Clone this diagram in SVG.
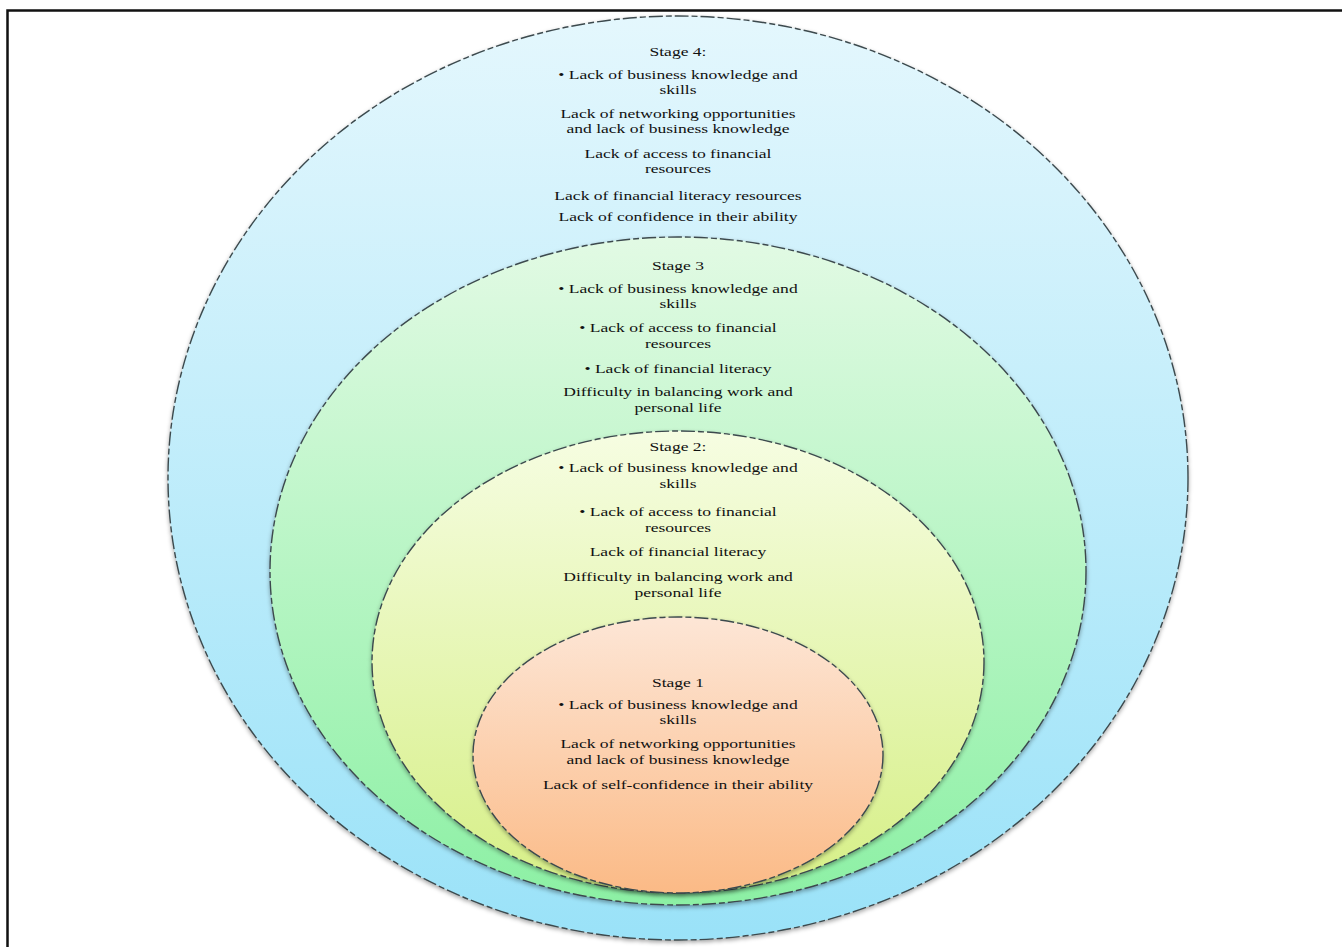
<svg xmlns="http://www.w3.org/2000/svg" width="1342" height="947" viewBox="0 0 1342 947">
<defs>
<linearGradient id="gBlue" x1="0" y1="0" x2="0" y2="1"><stop offset="0" stop-color="#e4f7fd"/><stop offset="1" stop-color="#9ae2f8"/></linearGradient>
<linearGradient id="gGreen" x1="0" y1="0" x2="0" y2="1"><stop offset="0" stop-color="#e2fae4"/><stop offset="1" stop-color="#8cf0a4"/></linearGradient>
<linearGradient id="gYellow" x1="0" y1="0" x2="0" y2="1"><stop offset="0" stop-color="#f6fde2"/><stop offset="1" stop-color="#d6ef86"/></linearGradient>
<linearGradient id="gOrange" x1="0" y1="0" x2="0" y2="1"><stop offset="0" stop-color="#fde6d6"/><stop offset="1" stop-color="#fbba86"/></linearGradient>
<filter id="sh" x="-5%" y="-5%" width="110%" height="110%"><feDropShadow dx="0" dy="2" stdDeviation="2" flood-color="#000" flood-opacity="0.35"/></filter>
</defs>
<style>
.ring{stroke:#3c4a4e;stroke-width:1.4;stroke-dasharray:14 3 6 3;filter:url(#sh)}
text{font-family:"Liberation Serif","Times New Roman",serif;font-size:13.5px;fill:#111;text-anchor:middle}
.t{transform:translate(678px,0) scale(1.3,1) translate(-678px,0)}
</style>
<rect x="0" y="0" width="1342" height="947" fill="#fff"/>
<path d="M7.5 947 V10.5 H1342" fill="none" stroke="#111" stroke-width="2.5"/>
<g id="stage4">
<ellipse class="ring" cx="678" cy="478" rx="510" ry="462" fill="url(#gBlue)"/>
<g class="t">
<text x="678" y="56">Stage 4:</text>
<text x="678" y="79">• Lack of business knowledge and</text>
<text x="678" y="94">skills</text>
<text x="678" y="118">Lack of networking opportunities</text>
<text x="678" y="133">and lack of business knowledge</text>
<text x="678" y="158">Lack of access to financial</text>
<text x="678" y="173">resources</text>
<text x="678" y="200">Lack of financial literacy resources</text>
<text x="678" y="221">Lack of confidence in their ability</text>
</g>
</g>
<g id="stage3">
<ellipse class="ring" cx="678" cy="571" rx="408" ry="334" fill="url(#gGreen)"/>
<g class="t">
<text x="678" y="270">Stage 3</text>
<text x="678" y="293">• Lack of business knowledge and</text>
<text x="678" y="308">skills</text>
<text x="678" y="332">• Lack of access to financial</text>
<text x="678" y="348">resources</text>
<text x="678" y="373">• Lack of financial literacy</text>
<text x="678" y="396">Difficulty in balancing work and</text>
<text x="678" y="412">personal life</text>
</g>
</g>
<g id="stage2">
<ellipse class="ring" cx="678" cy="662" rx="306" ry="231" fill="url(#gYellow)"/>
<g class="t">
<text x="678" y="451">Stage 2:</text>
<text x="678" y="472">• Lack of business knowledge and</text>
<text x="678" y="488">skills</text>
<text x="678" y="516">• Lack of access to financial</text>
<text x="678" y="532">resources</text>
<text x="678" y="556">Lack of financial literacy</text>
<text x="678" y="581">Difficulty in balancing work and</text>
<text x="678" y="597">personal life</text>
</g>
</g>
<g id="stage1">
<ellipse class="ring" cx="678" cy="755" rx="205" ry="138" fill="url(#gOrange)"/>
<g class="t">
<text x="678" y="687">Stage 1</text>
<text x="678" y="709">• Lack of business knowledge and</text>
<text x="678" y="724">skills</text>
<text x="678" y="748">Lack of networking opportunities</text>
<text x="678" y="764">and lack of business knowledge</text>
<text x="678" y="789">Lack of self-confidence in their ability</text>
</g>
</g>
<g id="connectors"/>
</svg>
